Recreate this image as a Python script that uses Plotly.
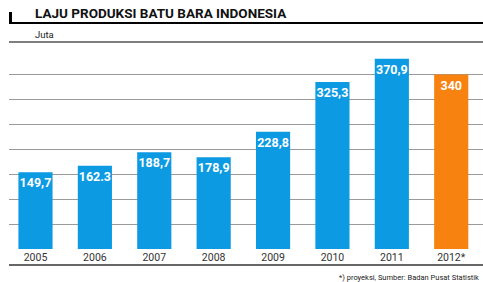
import plotly.graph_objects as go

years = ["2005", "2006", "2007", "2008", "2009", "2010", "2011", "2012*"]
values = [149.7, 162.3, 188.7, 178.9, 228.8, 325.3, 370.9, 340]
labels = ["149,7", "162.3", "188,7", "178,9", "228,8", "325,3", "370,9", "340"]
colors = ["#0c9ae2"] * 7 + ["#f7820f"]

W, H = 483, 282
L, R, T, B = 9, 483, 42, 249
FONT = "Roboto, sans-serif"

def px(x):
    return (x - L) / (R - L)

def py(y):
    return (B - y) / (B - T)

y_max = (B - T) / 0.513
grid_step = max(values[-1], 0) / 7
grid_vals = [grid_step * k for k in range(1, 8)]

fig = go.Figure(go.Bar(
    x=list(range(len(years))), y=values, text=labels,
    marker=dict(color=colors, line=dict(width=0)),
    width=0.575,
    textposition="inside", insidetextanchor="end", textangle=0,
    textfont=dict(family=FONT, size=12.5, color="white", weight="bold"),
    cliponaxis=False, constraintext="none",
))

fig.update_layout(
    width=W, height=H, margin=dict(l=L, r=W - R, t=T, b=H - B),
    paper_bgcolor="white", plot_bgcolor="white", showlegend=False,
    uniformtext=dict(mode=False),
    xaxis=dict(range=[-0.446, 7.535], tickmode="array",
               tickvals=list(range(len(years))), ticktext=years,
               showgrid=False, zeroline=False, showline=False, ticks="",
               tickfont=dict(family=FONT, size=10.5, color="#333")),
    yaxis=dict(range=[0, y_max], tickmode="array", tickvals=grid_vals,
               showticklabels=False, showgrid=True, gridcolor="#9a9a9a",
               gridwidth=1, zeroline=False, showline=False),
    shapes=[
        dict(type="rect", xref="paper", yref="paper", x0=px(9), x1=px(12),
             y0=py(12), y1=py(24), fillcolor="black", line=dict(width=0)),
        dict(type="line", xref="paper", yref="paper", x0=px(9), x1=px(483),
             y0=py(23), y1=py(23), line=dict(color="black", width=2)),
        dict(type="line", xref="paper", yref="paper", x0=px(9), x1=px(483),
             y0=py(42), y1=py(42), line=dict(color="#555", width=1.5)),
        dict(type="line", xref="paper", yref="paper", x0=px(9), x1=px(483),
             y0=py(265), y1=py(265), line=dict(color="#333", width=1.5)),
    ],
    annotations=[
        dict(text="<b>LAJU PRODUKSI BATU BARA INDONESIA</b>", xref="paper",
             yref="paper", x=px(33), y=py(13), xanchor="left", yanchor="middle",
             showarrow=False, font=dict(family=FONT, size=13.5, color="#111")),
        dict(text="Juta", xref="paper", yref="paper", x=px(33), y=py(34),
             xanchor="left", yanchor="middle", showarrow=False,
             font=dict(family=FONT, size=9.5, color="#222")),
        dict(text="*) proyeksi, Sumber: Badan Pusat Statistik", xref="paper",
             yref="paper", x=px(481), y=py(277), xanchor="right",
             yanchor="middle", showarrow=False,
             font=dict(family=FONT, size=7.5, color="#222")),
    ],
)

fig.write_html("out.html")
